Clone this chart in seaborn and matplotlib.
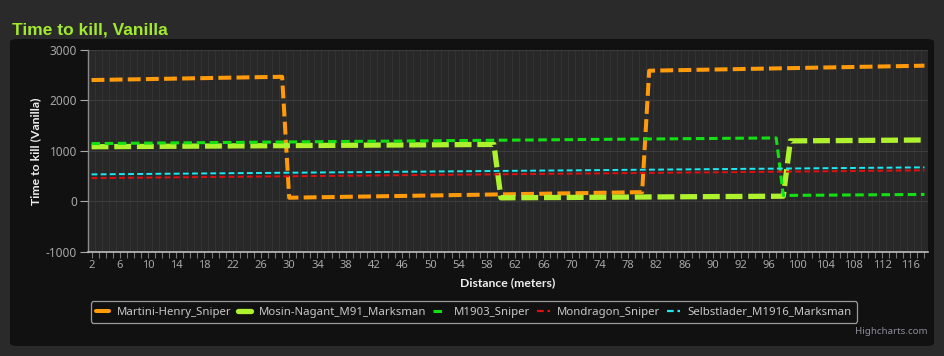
import matplotlib
matplotlib.use("Agg")
import matplotlib.pyplot as plt
from matplotlib.patches import FancyBboxPatch
from matplotlib.lines import Line2D
import seaborn as sns
import pandas as pd

# ---------------- data ----------------
distances = list(range(2, 91)) + [90.5, 91, 91.5] + list(range(92, 119))

martini_henry = [
    2405, 2407, 2410, 2412, 2415, 2417, 2419, 2422, 2424, 2427,
    2429, 2431, 2434, 2436, 2439, 2441, 2443, 2446, 2448, 2451,
    2453, 2455, 2458, 2460, 2463, 2465, 2467, 2470,
    75, 77, 79, 82, 84, 86, 88, 90, 93, 95,
    97, 99, 101, 104, 106, 108, 110, 112, 115, 117,
    119, 121, 123, 126, 128, 130, 132, 134, 137, 139,
    141, 143, 145, 148, 150, 152, 154, 156, 159, 161,
    163, 165, 167, 170, 172, 174, 176, 178, 181, 183,
    185,
    2590, 2593, 2595, 2598, 2600, 2603, 2605, 2608, 2610, 2613,
    2615, 2618, 2620, 2623, 2626, 2628, 2631, 2633, 2636, 2638,
    2641, 2643, 2646, 2649, 2651, 2654, 2656, 2659, 2661, 2664,
    2667, 2669, 2672, 2674, 2677, 2679, 2682, 2684, 2687, 2690,
]

mosin_nagant = [
    1085, 1086, 1086, 1087, 1088, 1089, 1090, 1090, 1091, 1092,
    1093, 1094, 1094, 1095, 1096, 1097, 1098, 1098, 1099, 1100,
    1101, 1102, 1102, 1103, 1104, 1105, 1106, 1106, 1107, 1108,
    1109, 1110, 1110, 1111, 1112, 1113, 1114, 1114, 1115, 1116,
    1117, 1118, 1118, 1119, 1120, 1121, 1122, 1122, 1123, 1124,
    1125, 1126, 1126, 1127, 1128, 1129, 1130, 1130,
    73, 74, 75, 75, 76, 77, 78, 79, 79, 80,
    81, 82, 83, 83, 84, 85, 86, 87, 87, 88,
    89, 90, 91, 91, 92, 93, 94, 95, 95, 96,
    97, 98, 99, 99, 100, 101, 102, 103, 103, 104,
    105,
    1200, 1201, 1202, 1203, 1204, 1205, 1206, 1206, 1207, 1208,
    1209, 1210, 1211, 1212, 1213, 1214, 1215, 1216, 1217, 1218,
]

m1903 = [
    1147, 1148, 1149, 1150, 1152, 1153, 1154, 1155, 1156, 1157,
    1159, 1160, 1161, 1162, 1163, 1164, 1165, 1167, 1168, 1169,
    1170, 1171, 1172, 1173, 1175, 1176, 1177, 1178, 1179, 1180,
    1182, 1183, 1184, 1185, 1186, 1187, 1188, 1190, 1191, 1192,
    1193, 1194, 1195, 1196, 1198, 1199, 1200, 1201, 1202, 1203,
    1205, 1206, 1207, 1208, 1209, 1210, 1211, 1213, 1214, 1215,
    1216, 1217, 1218, 1219, 1221, 1222, 1223, 1224, 1225, 1226,
    1228, 1229, 1230, 1231, 1232, 1233, 1234, 1236, 1237, 1238,
    1239, 1240, 1241, 1242, 1244, 1245, 1246, 1247, 1248, 1249,
    1251, 1252, 1253, 1254, 1255, 1256, 1257, 1259,
    120, 121, 122, 123, 124, 125, 126, 127, 128, 129,
    130, 131, 132, 133, 134, 135, 136, 137, 138, 139, 140,
]

mondragon = [
    463, 464, 466, 467, 468, 470, 471, 472, 473, 475,
    476, 477, 479, 480, 481, 483, 484, 485, 486, 488,
    489, 490, 492, 493, 494, 496, 497, 498, 499, 501,
    502, 503, 505, 506, 507, 509, 510, 511, 512, 514,
    515, 516, 518, 519, 520, 522, 523, 524, 525, 527,
    528, 529, 531, 532, 533, 535, 536, 537, 538, 540,
    541, 542, 544, 545, 546, 548, 549, 550, 551, 553,
    554, 555, 557, 558, 559, 561, 562, 563, 564, 566,
    567, 568, 570, 571, 572, 574, 575, 576, 577, 579,
    580, 581, 583, 584, 585, 587, 588, 589, 590, 592,
    593, 594, 596, 597, 598, 600, 601, 602, 603, 605,
    606, 607, 609, 610, 611, 613, 614, 615, 616,
]

selbstlader = [
    537, 538, 539, 541, 542, 543, 544, 545, 546, 548,
    549, 550, 551, 552, 553, 555, 556, 557, 558, 559,
    561, 562, 563, 564, 565, 566, 568, 569, 570, 571,
    572, 574, 575, 576, 577, 578, 579, 581, 582, 583,
    584, 585, 587, 588, 589, 590, 591, 592, 594, 595,
    596, 597, 598, 600, 601, 602, 603, 604, 605, 607,
    608, 609, 610, 611, 613, 614, 615, 616, 617, 618,
    620, 621, 622, 623, 624, 626, 627, 628, 629, 630,
    631, 633, 634, 635, 636, 637, 638, 640, 641, 642,
    643, 644, 646, 647, 648, 649, 650, 651, 653, 654,
    655, 656, 657, 659, 660, 661, 662, 663, 664, 666,
    667, 668, 669, 670, 672, 673, 674, 675, 676,
]

series_names = ["Martini-Henry_Sniper", "Mosin-Nagant_M91_Marksman",
                "M1903_Sniper", "Mondragon_Sniper", "Selbstlader_M1916_Marksman"]
series_values = [martini_henry, mosin_nagant, m1903, mondragon, selbstlader]
y_ticks = [-1000, 0, 1000, 2000, 3000]

# ---------------- styles ----------------
colors = ["#ff9a0a", "#aef22e", "#11e011", "#e01010", "#1ee8f0"]
widths = [2.9, 3.8, 2.2, 1.4, 1.4]
dash_patterns = [(3.2, 1.3), (3.2, 1.1), (2.8, 1.5), (3.0, 1.7), (3.0, 1.7)]

rows = []
for name, vals in zip(series_names, series_values):
    for i, (d, v) in enumerate(zip(distances, vals)):
        rows.append({"series": name, "idx": i, "distance": d, "ttk": v})
df = pd.DataFrame(rows)

sns.set_theme(style="dark")
plt.rcParams["font.family"] = ["Noto Sans", "DejaVu Sans"]
bold_family = ["Lato", "Liberation Sans", "DejaVu Sans"]

fig = plt.figure(figsize=(9.44, 3.56), dpi=100)
fig.patch.set_facecolor("#2a2a2a")

# dark panel
panel = FancyBboxPatch((10 / 944, 1 - 346 / 356), 924 / 944, 307 / 356,
                       boxstyle="round,pad=0,rounding_size=0.008",
                       transform=fig.transFigure, facecolor="#111111",
                       edgecolor="none", zorder=-5)
fig.patches.append(panel)

ax = fig.add_axes([88 / 944, 1 - 252 / 356, 840 / 944, 202 / 356])
ax.set_zorder(2)
ax.set_facecolor("#282828")

for name, col, lw, dp in zip(series_names, colors, widths, dash_patterns):
    sub = df[df["series"] == name]
    sns.lineplot(data=sub, x="idx", y="ttk", ax=ax, color=col, linewidth=lw,
                 linestyle=(0, dp), legend=False, sort=False,
                 dash_capstyle="butt", solid_joinstyle="miter")

n = len(distances)
ax.set_xlim(-0.5, n - 0.5)
ax.set_ylim(-1000, 3000)

# x ticks: minor at every category, labels every 4th
ax.set_xticks(list(range(n)), minor=True)
major_idx = list(range(0, n, 4))
ax.set_xticks(major_idx)
ax.set_xticklabels([f"{distances[i]:g}" for i in major_idx])
ax.set_yticks(y_ticks)
ax.set_yticklabels([f"{v}" for v in y_ticks])

ax.tick_params(axis="x", which="both", colors="#777777", length=4, width=0.8,
               direction="out", bottom=True, labelcolor="#a8a8a8",
               labelsize=8, pad=2)
ax.tick_params(axis="y", which="major", colors="#aaaaaa", length=6, width=0.8,
               left=True, labelcolor="#a8a8a8", labelsize=8.5, pad=2)

# grid
ax.grid(False)
for i in range(n):
    ax.axvline(i + 0.5, color="#323232", linewidth=0.8, zorder=0.5)
for v in y_ticks:
    ax.axhline(v, color="#3c3c3c", linewidth=0.8, zorder=0.6)

for side in ["top", "right"]:
    ax.spines[side].set_visible(False)
ax.spines["bottom"].set_color("#c0c0c0")
ax.spines["bottom"].set_linewidth(1.2)
ax.spines["left"].set_color("#8a8a8a")
ax.spines["left"].set_linewidth(1.0)

ax.set_xlabel("Distance (meters)", color="#eeeeee", fontsize=8.8,
              fontweight="bold", family=bold_family)
ax.set_ylabel("Time to kill (Vanilla)", color="#eeeeee", fontsize=8.8,
              fontweight="bold", family=bold_family)
ax.xaxis.set_label_coords(0.5, -0.125)
ax.yaxis.set_label_coords(-0.056, 0.5)

fig.text(12 / 944, 1 - 30 / 356, "Time to kill, Vanilla", color="#a2ea2c",
         fontsize=12.5, fontweight="bold", va="center", ha="left",
         family=["Liberation Sans", "DejaVu Sans"])
fig.text(928 / 944, 1 - 331 / 356, "Highcharts.com", color="#8c8c9a",
         fontsize=7, va="center", ha="right")

# legend
handles = [
    Line2D([0], [0], color=colors[0], linewidth=2.9, linestyle="-"),
    Line2D([0], [0], color=colors[1], linewidth=3.8, linestyle="-"),
    Line2D([0], [0], color=colors[2], linewidth=2.2, linestyle=(0, (2.8, 1.5))),
    Line2D([0], [0], color=colors[3], linewidth=1.6, linestyle=(0, (3.0, 1.7))),
    Line2D([0], [0], color=colors[4], linewidth=1.6, linestyle=(0, (3.0, 1.7))),
]
leg = fig.legend(handles, series_names, loc="center", ncol=5,
                 bbox_to_anchor=(474 / 944, 1 - 312 / 356),
                 frameon=True, fancybox=True, fontsize=8.2,
                 labelcolor="#c8c8c8", handlelength=1.15, handletextpad=0.65,
                 columnspacing=0.6, borderpad=0.45)
leg.set_zorder(3)
frame = leg.get_frame()
frame.set_facecolor("#111111")
frame.set_edgecolor("#9a9a9a")
frame.set_linewidth(0.9)
frame.set_alpha(1)

fig.savefig("out.png", dpi=100, facecolor=fig.get_facecolor())
